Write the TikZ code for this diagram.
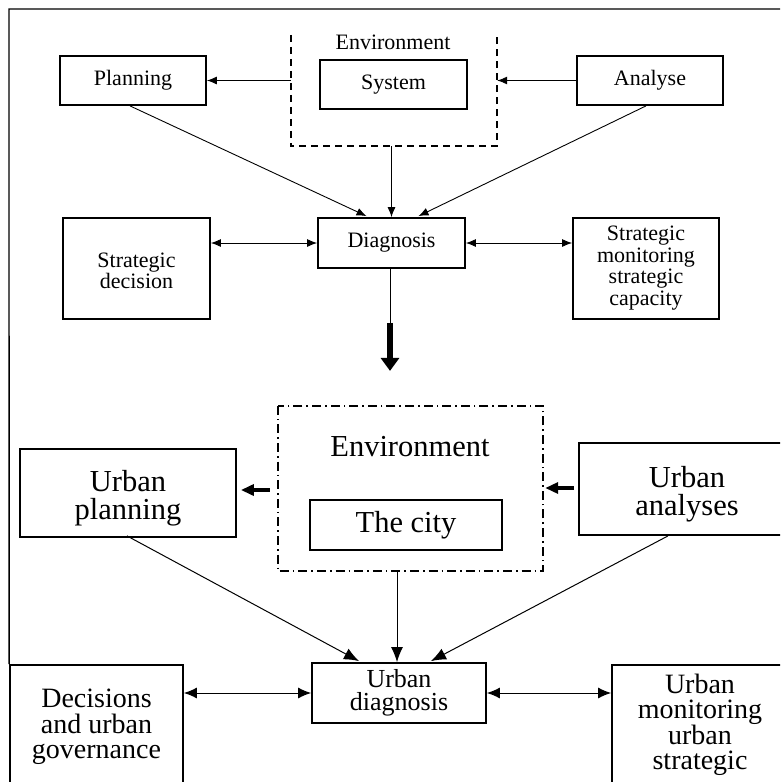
\documentclass[tikz,border=0pt]{standalone}
\usepackage{fontspec}
\setmainfont{Liberation Serif}
\usetikzlibrary{arrows.meta,calc}
\begin{document}
\begin{tikzpicture}[x=1pt,y=-1pt,
  box/.style={draw, line width=1.8pt, rectangle, inner sep=0pt, align=center},
  ghost/.style={rectangle, inner sep=0pt},
  fsmall/.style={font=\fontsize{22}{21.5}\selectfont},
  fmid/.style={font=\fontsize{26}{23.5}\selectfont},
  fbig/.style={font=\fontsize{30.5}{28}\selectfont},
  fdec/.style={font=\fontsize{28}{25.5}\selectfont},
  conn/.style={line width=0.9pt, -{Latex[length=10pt,width=8pt]}},
  dconn/.style={line width=0.9pt, {Latex[length=10pt,width=8pt]}-{Latex[length=10pt,width=8pt]}},
  bconn/.style={line width=1pt, -{Latex[length=15pt,width=12pt]}},
  bdconn/.style={line width=1pt, {Latex[length=13pt,width=11pt]}-{Latex[length=13pt,width=11pt]}},
  shortthick/.style={line width=3.3pt, -{Triangle[length=13pt,width=11pt]}},
  bigthick/.style={line width=6.5pt, -{Triangle[length=13pt,width=18pt]}},
  dashbox/.style={line width=2pt, dash pattern=on 7pt off 5pt},
  dashdotbox/.style={line width=2pt, dash pattern=on 9pt off 4pt on 1.6pt off 4pt}
]
\clip (0,0) rectangle (780,782);
\fill[white] (0,0) rectangle (780,782);

% ---------- top half ----------
\node[ghost, minimum width=206pt, minimum height=111pt] (envA) at (394,90.5) {};
\draw[dashbox] (envA.north west) -- (envA.south west) -- (envA.south east) -- (envA.north east);
\node[fsmall, anchor=base] (envAlabel) at (393,49) {Environment};

\node[box, fsmall, minimum width=146pt, minimum height=49pt] (planning) at (133,80.5) {Planning};
\node[box, fsmall, minimum width=147pt, minimum height=49pt] (system) at (393.5,84.5) {System};
\node[box, fsmall, minimum width=146pt, minimum height=49pt] (analyse) at (650,80.5) {Analyse};

\node[box, fsmall, minimum width=147pt, minimum height=50pt] (diagnosis) at (391.5,243) {Diagnosis};
\node[box, minimum width=147pt, minimum height=101pt] (sdec) at (136.5,268.5) {};
\node[fsmall, align=center] (sdectext) at (136.5,271) {Strategic\\decision};
\node[box, minimum width=146pt, minimum height=101pt] (smon) at (646,268.5) {};
\node[fsmall, align=center] (smontext) at (646,268) {Strategic\\monitoring\\strategic\\capacity};

\draw[conn] (envA.west |- planning.east) -- (planning.east);
\draw[conn] (analyse.west) -- (envA.east |- analyse.west);
\draw[conn] (envA.south -| diagnosis.north) -- (diagnosis.north);
\draw[conn] ($(planning.south)+(-3,0)$) -- ($(diagnosis.north)+(-25,-1)$);
\draw[conn] ($(analyse.south)+(-4,0)$) -- ($(diagnosis.north)+(27,-1)$);
\draw[dconn] (sdec.east |- diagnosis.west) -- (diagnosis.west);
\draw[dconn] (diagnosis.east) -- (smon.west |- diagnosis.east);

\coordinate (k1) at ($(diagnosis.south)+(-1.5,54)$);
\coordinate (k2) at ($(diagnosis.south)+(-1.5,102)$);
\draw[line width=0.9pt] ($(diagnosis.south)+(-1.5,0)$) -- (k1);
\draw[bigthick] (k1) -- (k2);

% ---------- bottom half ----------
\node[ghost, minimum width=265pt, minimum height=165pt] (envB) at (410.5,488.5) {};
\draw[dashdotbox] (envB.north west) rectangle (envB.south east);
\node[fbig, anchor=base] (envBlabel) at (410,456) {Environment};
\node[box, fbig, minimum width=192pt, minimum height=50pt] (city) at (406,525) {The city};

\node[box, minimum width=216pt, minimum height=88pt] (uplan) at (128,493) {};
\node[fbig, align=center] (uplantext) at (128,498) {Urban\\planning};
\node[box, minimum width=216pt, minimum height=92pt] (uana) at (687,489) {};
\node[fbig, align=center] (uanatext) at (687,494) {Urban\\analyses};

\node[box, fmid, minimum width=174pt, minimum height=60pt] (udiag) at (399,693) {Urban\\diagnosis};
\node[box, minimum width=173pt, minimum height=124pt] (dec) at (96.5,727) {};
\node[fdec, align=center] (dectext) at (96.5,727) {Decisions\\and urban\\governance};
\node[box, minimum width=176pt, minimum height=150pt] (umon) at (700,740) {};
\node[fdec, align=center] (umontext) at (700,725) {Urban\\monitoring\\urban\\strategic};

\draw[shortthick] ($(envB.west)+(-8,1.5)$) -- ($(uplan.east)+(4,-3)$);
\draw[shortthick] ($(uana.west)+(-4,-1)$) -- ($(envB.east)+(2,-0.5)$);
\draw[bconn] ($(envB.south -| udiag.north)+(-2,0)$) -- ($(udiag.north)+(-2,0)$);
\draw[bconn] ($(uplan.south)+(-1,-2)$) -- ($(udiag.north)+(-40,-1)$);
\draw[bconn] ($(uana.south)+(-19,0)$) -- ($(udiag.north)+(32,-1)$);
\draw[bdconn] (dec.east |- udiag.west) -- (udiag.west);
\draw[bdconn] (udiag.east) -- (umon.west |- udiag.east);

% ---------- frame ----------
\draw[line width=1.4pt] (dec.north west) -- (9,9) -- (781,9);
\end{tikzpicture}
\end{document}
